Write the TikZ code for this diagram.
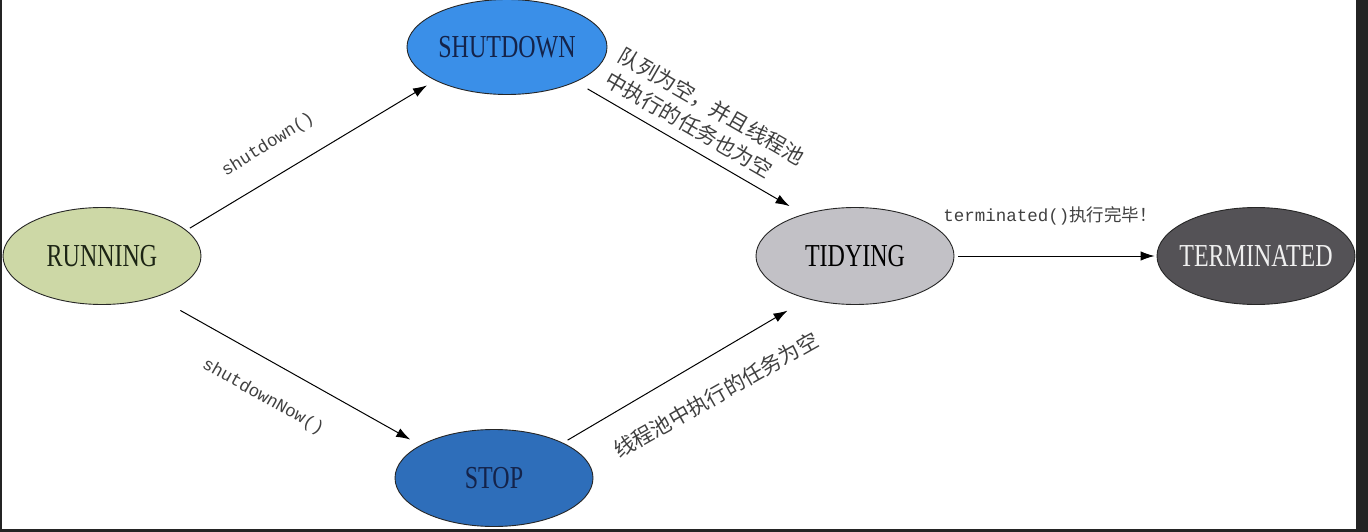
\documentclass[tikz,border=0pt]{standalone}
\usepackage{fontspec}
\usetikzlibrary{shapes.geometric,arrows.meta}
\newfontfamily\statefont[FakeStretch=0.75]{Liberation Serif}
\newfontfamily\lblmono{Liberation Mono}
\newfontfamily\cjkfont{Noto Sans CJK SC}
\newcommand\statetext[1]{\makebox[0pt][c]{#1}}
\definecolor{bgdark}{HTML}{242424}
\definecolor{runfill}{HTML}{CDD8A6}
\definecolor{runtext}{HTML}{1C2414}
\definecolor{shutfill}{HTML}{3A8FE8}
\definecolor{stopfill}{HTML}{2E6EBA}
\definecolor{bluetext}{HTML}{14234A}
\definecolor{tidyfill}{HTML}{C2C1C6}
\definecolor{termfill}{HTML}{545256}
\definecolor{lbltext}{HTML}{404040}
\begin{document}
\begin{tikzpicture}[x=1pt,y=-1pt,
  statebox/.style={ellipse, draw=black!85, line width=0.9pt, minimum width=198pt, minimum height=97pt, inner sep=0pt, font=\statefont\fontsize{32}{32}\selectfont},
  conn/.style={-{Latex[length=14pt,width=9.5pt]}, line width=1pt, black},
  lbl/.style={text=lbltext, inner sep=0pt},
  monolbl/.style={lbl, font=\lblmono\fontsize{17.5}{17.5}\selectfont},
  cjklbl/.style={lbl, font=\cjkfont\fontsize{21}{27}\selectfont}]
\fill[bgdark] (0,0) rectangle (1368,532);
\fill[white] (2,0) rectangle (1356,529);
\useasboundingbox (0,0) rectangle (1368,532);

\node[statebox, fill=runfill, text=runtext] (running) at (102,256) {\statetext{RUNNING}};
\node[statebox, fill=shutfill, text=bluetext, minimum width=200pt, minimum height=95pt] (shutdown) at (507,47) {\statetext{SHUTDOWN}};
\node[statebox, fill=stopfill, text=bluetext] (stop) at (494,478) {\statetext{STOP}};
\node[statebox, fill=tidyfill, text=black] (tidying) at (855,256) {\statetext{TIDYING}};
\node[statebox, fill=termfill, text=white!94!black] (terminated) at (1256,256) {\statetext{TERMINATED}};

\draw[conn, shorten <=4pt, shorten >=9.5pt] (running.17) -- (shutdown.205);
\draw[conn, shorten <=27.5pt, shorten >=11.5pt] (running.323) -- (stop.156.4);
\draw[conn, shorten <=13.8pt, shorten >=16pt] (shutdown.333.8) -- (tidying.141.9);
\draw[conn, shorten <=5.3pt, shorten >=23pt] (stop.27.3) -- (tidying.222.5);
\draw[conn, shorten <=4pt, shorten >=2pt] (tidying.east) -- (terminated.west);

\node[monolbl, rotate=32] (lshut) at (268,145) {shutdown()};
\node[monolbl, rotate=-29.4] (lnow) at (263,397) {shutdownNow()};
\node[cjklbl, rotate=-30, align=left] (lqueue) at (705,118) {队列为空，并且线程池\\中执行的任务也为空};
\node[cjklbl, rotate=29.5] (lpool) at (716,395) {线程池中执行的任务为空};
\node[lbl, font=\fontsize{17.5}{17.5}\selectfont] (lterm) at (1050,216) {\lblmono terminated()\cjkfont 执行完毕！};
\end{tikzpicture}
\end{document}
